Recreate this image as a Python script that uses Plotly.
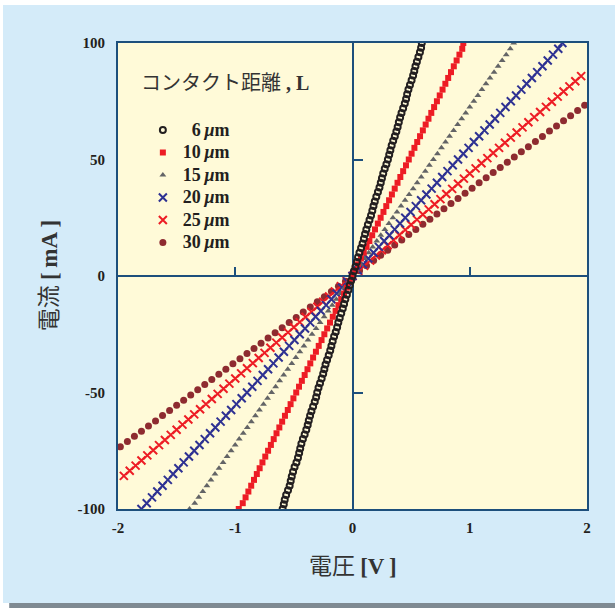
import plotly.graph_objects as go

# ---------------- data ----------------
series_names = ["6", "10", "15", "20", "25", "30"]

x_tick_vals = [-2, -1, 0, 1, 2]
x_tick_text = ["-2", "-1", "0", "1", "2"]
y_tick_vals = [-100, -50, 0, 50, 100]
y_tick_text = ["-100", "-50", "0", "50", "100"]
x_zero_ticks = [-1, 1]
y_zero_ticks = [-50, 50]

# 30 um
v_30 = [-1.98, -1.92, -1.86, -1.80, -1.74, -1.68, -1.62, -1.56, -1.50, -1.44, -1.38, -1.32, -1.26,
        -1.20, -1.14, -1.08, -1.02, -0.96, -0.90, -0.84, -0.78, -0.72, -0.66, -0.60, -0.54, -0.48,
        -0.42, -0.36, -0.30, -0.24, -0.18, -0.12, -0.06, 0.00, 0.06, 0.12, 0.18, 0.24, 0.30, 0.36,
        0.42, 0.48, 0.54, 0.60, 0.66, 0.72, 0.78, 0.84, 0.90, 0.96, 1.02, 1.08, 1.14, 1.20, 1.26,
        1.32, 1.38, 1.44, 1.50, 1.56, 1.62, 1.68, 1.74, 1.80, 1.86, 1.92, 1.98]
i_30 = [-73.3, -71.0, -68.8, -66.6, -64.4, -62.2, -59.9, -57.7, -55.5, -53.3, -51.1, -48.8, -46.6,
        -44.4, -42.2, -40.0, -37.7, -35.5, -33.3, -31.1, -28.9, -26.6, -24.4, -22.2, -20.0, -17.8,
        -15.5, -13.3, -11.1, -8.9, -6.7, -4.4, -2.2, 0.0, 2.2, 4.4, 6.7, 8.9, 11.1, 13.3,
        15.5, 17.8, 20.0, 22.2, 24.4, 26.6, 28.9, 31.1, 33.3, 35.5, 37.7, 40.0, 42.2, 44.4, 46.6,
        48.8, 51.1, 53.3, 55.5, 57.7, 59.9, 62.2, 64.4, 66.6, 68.8, 71.0, 73.3]

# 25 um
v_25 = [-1.95, -1.90, -1.85, -1.80, -1.75, -1.70, -1.65, -1.60, -1.55, -1.50, -1.45, -1.40, -1.35,
        -1.30, -1.25, -1.20, -1.15, -1.10, -1.05, -1.00, -0.95, -0.90, -0.85, -0.80, -0.75, -0.70,
        -0.65, -0.60, -0.55, -0.50, -0.45, -0.40, -0.35, -0.30, -0.25, -0.20, -0.15, -0.10, -0.05,
        0.00, 0.05, 0.10, 0.15, 0.20, 0.25, 0.30, 0.35, 0.40, 0.45, 0.50, 0.55, 0.60, 0.65, 0.70,
        0.75, 0.80, 0.85, 0.90, 0.95, 1.00, 1.05, 1.10, 1.15, 1.20, 1.25, 1.30, 1.35, 1.40, 1.45,
        1.50, 1.55, 1.60, 1.65, 1.70, 1.75, 1.80, 1.85, 1.90, 1.95]
i_25 = [-85.8, -83.6, -81.4, -79.2, -77.0, -74.8, -72.6, -70.4, -68.2, -66.0, -63.8, -61.6, -59.4,
        -57.2, -55.0, -52.8, -50.6, -48.4, -46.2, -44.0, -41.8, -39.6, -37.4, -35.2, -33.0, -30.8,
        -28.6, -26.4, -24.2, -22.0, -19.8, -17.6, -15.4, -13.2, -11.0, -8.8, -6.6, -4.4, -2.2,
        0.0, 2.2, 4.4, 6.6, 8.8, 11.0, 13.2, 15.4, 17.6, 19.8, 22.0, 24.2, 26.4, 28.6, 30.8,
        33.0, 35.2, 37.4, 39.6, 41.8, 44.0, 46.2, 48.4, 50.6, 52.8, 55.0, 57.2, 59.4, 61.6, 63.8,
        66.0, 68.2, 70.4, 72.6, 74.8, 77.0, 79.2, 81.4, 83.6, 85.8]

# current sweep shared by 20, 15 and 10 um
i_sweep = [-100, -97.5, -95, -92.5, -90, -87.5, -85, -82.5, -80, -77.5, -75, -72.5, -70, -67.5,
           -65, -62.5, -60, -57.5, -55, -52.5, -50, -47.5, -45, -42.5, -40, -37.5, -35, -32.5,
           -30, -27.5, -25, -22.5, -20, -17.5, -15, -12.5, -10, -7.5, -5, -2.5, 0,
           2.5, 5, 7.5, 10, 12.5, 15, 17.5, 20, 22.5, 25, 27.5, 30, 32.5, 35, 37.5, 40, 42.5,
           45, 47.5, 50, 52.5, 55, 57.5, 60, 62.5, 65, 67.5, 70, 72.5, 75, 77.5, 80, 82.5,
           85, 87.5, 90, 92.5, 95, 97.5, 100]

# 20 um
v_20 = [-1.800, -1.755, -1.710, -1.665, -1.620, -1.575, -1.530, -1.485, -1.440, -1.395, -1.350,
        -1.305, -1.260, -1.215, -1.170, -1.125, -1.080, -1.035, -0.990, -0.945, -0.900, -0.855,
        -0.810, -0.765, -0.720, -0.675, -0.630, -0.585, -0.540, -0.495, -0.450, -0.405, -0.360,
        -0.315, -0.270, -0.225, -0.180, -0.135, -0.090, -0.045, 0.000,
        0.045, 0.090, 0.135, 0.180, 0.225, 0.270, 0.315, 0.360, 0.405, 0.450, 0.495, 0.540,
        0.585, 0.630, 0.675, 0.720, 0.765, 0.810, 0.855, 0.900, 0.945, 0.990, 1.035, 1.080,
        1.125, 1.170, 1.215, 1.260, 1.305, 1.350, 1.395, 1.440, 1.485, 1.530, 1.575, 1.620,
        1.665, 1.710, 1.755, 1.790]

# 15 um
v_15 = [-1.3900, -1.3455, -1.3110, -1.2765, -1.2420, -1.2075, -1.1730, -1.1385, -1.1040, -1.0695,
        -1.0350, -1.0005, -0.9660, -0.9315, -0.8970, -0.8625, -0.8280, -0.7935, -0.7590, -0.7245,
        -0.6900, -0.6555, -0.6210, -0.5865, -0.5520, -0.5175, -0.4830, -0.4485, -0.4140, -0.3795,
        -0.3450, -0.3105, -0.2760, -0.2415, -0.2070, -0.1725, -0.1380, -0.1035, -0.0690, -0.0345,
        0.0000, 0.0345, 0.0690, 0.1035, 0.1380, 0.1725, 0.2070, 0.2415, 0.2760, 0.3105, 0.3450,
        0.3795, 0.4140, 0.4485, 0.4830, 0.5175, 0.5520, 0.5865, 0.6210, 0.6555, 0.6900, 0.7245,
        0.7590, 0.7935, 0.8280, 0.8625, 0.8970, 0.9315, 0.9660, 1.0005, 1.0350, 1.0695, 1.1040,
        1.1385, 1.1730, 1.2075, 1.2420, 1.2765, 1.3110, 1.3455, 1.3750]

# 10 um
v_10 = [-0.970, -0.936, -0.912, -0.888, -0.864, -0.840, -0.816, -0.792, -0.768, -0.744, -0.720,
        -0.696, -0.672, -0.648, -0.624, -0.600, -0.576, -0.552, -0.528, -0.504, -0.480, -0.456,
        -0.432, -0.408, -0.384, -0.360, -0.336, -0.312, -0.288, -0.264, -0.240, -0.216, -0.192,
        -0.168, -0.144, -0.120, -0.096, -0.072, -0.048, -0.024, 0.000,
        0.024, 0.048, 0.072, 0.096, 0.120, 0.144, 0.168, 0.192, 0.216, 0.240, 0.264, 0.288,
        0.312, 0.336, 0.360, 0.384, 0.408, 0.432, 0.456, 0.480, 0.504, 0.528, 0.552, 0.576,
        0.600, 0.624, 0.648, 0.672, 0.696, 0.720, 0.744, 0.768, 0.792, 0.816, 0.840, 0.864,
        0.888, 0.912, 0.936, 0.945]

# 6 um
v_6 = [-0.596, -0.586, -0.578, -0.566, -0.550, -0.536, -0.527, -0.518, -0.507, -0.494, -0.478,
       -0.465, -0.455, -0.446, -0.436, -0.423, -0.408, -0.394, -0.382, -0.373, -0.362, -0.350,
       -0.336, -0.322, -0.310, -0.301, -0.290, -0.277, -0.263, -0.250, -0.240, -0.230, -0.217,
       -0.203, -0.190, -0.180, -0.169, -0.157, -0.143, -0.131, -0.121, -0.109, -0.096, -0.083,
       -0.072, -0.061, -0.048, -0.035, -0.024, -0.012, 0.000, 0.012, 0.025, 0.037, 0.047,
       0.059, 0.073, 0.086, 0.097, 0.107, 0.118, 0.131, 0.145, 0.158, 0.169, 0.179, 0.190,
       0.203, 0.217, 0.230, 0.241, 0.251, 0.262, 0.275, 0.289, 0.302, 0.313, 0.323, 0.334,
       0.347, 0.361, 0.374, 0.385, 0.395, 0.406, 0.418, 0.432, 0.446, 0.457, 0.466, 0.477,
       0.490, 0.504, 0.517, 0.527, 0.537, 0.549, 0.562, 0.575, 0.585, 0.591]
i_6 = [-100, -98, -96, -94, -92, -90, -88, -86, -84, -82, -80, -78, -76, -74, -72, -70, -68, -66,
       -64, -62, -60, -58, -56, -54, -52, -50, -48, -46, -44, -42, -40, -38, -36, -34, -32, -30,
       -28, -26, -24, -22, -20, -18, -16, -14, -12, -10, -8, -6, -4, -2, 0, 2, 4, 6, 8, 10, 12,
       14, 16, 18, 20, 22, 24, 26, 28, 30, 32, 34, 36, 38, 40, 42, 44, 46, 48, 50, 52, 54, 56,
       58, 60, 62, 64, 66, 68, 70, 72, 74, 76, 78, 80, 82, 84, 86, 88, 90, 92, 94, 96, 98, 100]

# ---------------- styles ----------------
SERIF = "Liberation Serif"
CJK = "Noto Sans CJK JP"
FRAME = "#1d4f7c"
TXT = "#231f20"

styles = {
    "6": dict(symbol="circle-open", size=6, color="#231f20", line=dict(width=2, color="#231f20")),
    "10": dict(symbol="square", size=6, color="#ed1c24"),
    "15": dict(symbol="triangle-up", size=6, color="#636466"),
    "20": dict(symbol="x-thin-open", size=8, color="#2e3192", line=dict(width=2, color="#2e3192")),
    "25": dict(symbol="x-thin-open", size=8, color="#ed1c24", line=dict(width=2, color="#ed1c24")),
    "30": dict(symbol="circle", size=7, color="#8e2b30"),
}
data = {"6": (v_6, i_6), "10": (v_10, i_sweep), "15": (v_15, i_sweep),
        "20": (v_20, i_sweep), "25": (v_25, i_25), "30": (v_30, i_30)}

fig = go.Figure()
for rank, name in reversed(list(enumerate(series_names))):
    v, i = data[name]
    pad = "\u00a0\u00a0" if len(name) == 1 else ""
    label = '<span style="font-size:18px">' + pad + name + "\u2009<i>μ</i>m</span>"
    fig.add_trace(go.Scatter(x=v, y=i, mode="markers", name=label,
                             marker=styles[name], legendrank=rank + 1))

# carrier for the inner tick marks drawn on the zero lines
fig.add_trace(go.Scatter(x=[], y=[], xaxis="x2", yaxis="y2", showlegend=False,
                         hoverinfo="skip"))

fig.update_layout(
    width=615, height=608,
    margin=dict(l=118, r=28, t=43, b=99),
    paper_bgcolor="#d4ebf9",
    plot_bgcolor="#fffad8",
    showlegend=True,
    legend=dict(x=0.053, y=0.848, xanchor="left", yanchor="top",
                bgcolor="rgba(0,0,0,0)", tracegroupgap=0,
                font=dict(family=SERIF, size=15, color=TXT, weight="bold")),
    xaxis=dict(range=[-2, 2], tickvals=x_tick_vals, ticktext=x_tick_text, ticks="",
               showline=True, mirror=True, linecolor=FRAME, linewidth=2,
               showgrid=False, zeroline=True, zerolinecolor=FRAME, zerolinewidth=1.5,
               tickfont=dict(family=SERIF, size=15, color=TXT, weight="bold"),
               ticklabelstandoff=4),
    yaxis=dict(range=[-100, 100], tickvals=y_tick_vals, ticktext=y_tick_text, ticks="",
               showline=True, mirror=True, linecolor=FRAME, linewidth=2,
               showgrid=False, zeroline=True, zerolinecolor=FRAME, zerolinewidth=1.5,
               tickfont=dict(family=SERIF, size=15, color=TXT, weight="bold"),
               ticklabelstandoff=8),
    xaxis2=dict(overlaying="x", anchor="free", position=0.5, side="bottom",
                range=[-2, 2], tickvals=x_zero_ticks, ticks="inside", ticklen=9,
                tickwidth=1.5, tickcolor=FRAME, showticklabels=False,
                showline=False, showgrid=False, zeroline=False),
    yaxis2=dict(overlaying="y", anchor="free", position=0.5, side="left",
                range=[-100, 100], tickvals=y_zero_ticks, ticks="inside", ticklen=9,
                tickwidth=1.5, tickcolor=FRAME, showticklabels=False,
                showline=False, showgrid=False, zeroline=False),
)

serif_span = '<span style="font-family:Liberation Serif;font-weight:bold">'
fig.add_annotation(text='コンタクト距離' + serif_span + ' , L</span>',
                   xref="paper", yref="paper", x=0.045, y=0.917,
                   xanchor="left", yanchor="middle", showarrow=False,
                   font=dict(family=CJK, size=20, color="#333333"))
fig.add_annotation(text='電圧 ' + serif_span + '[V\u2009]</span>',
                   xref="paper", yref="paper", x=0.501, y=-0.118,
                   xanchor="center", yanchor="middle", showarrow=False,
                   font=dict(family=CJK, size=23, color="#333333"))
fig.add_annotation(text='電流 ' + serif_span + '[\u2009mA\u2009]</span>',
                   xref="paper", yref="paper", x=-0.151, y=0.5, textangle=-90,
                   xanchor="center", yanchor="middle", showarrow=False,
                   font=dict(family=CJK, size=23, color="#333333"))

# page frame: white border strip at top/left, grey shadow at bottom
fig.add_shape(type="rect", xref="paper", yref="paper", x0=-0.3, x1=1.2, y0=1.0815, y1=1.2,
              fillcolor="white", line_width=0, layer="above")
fig.add_shape(type="rect", xref="paper", yref="paper", x0=-0.3, x1=-0.2452, y0=-0.3, y1=1.2,
              fillcolor="white", line_width=0, layer="above")
fig.add_shape(type="rect", xref="paper", yref="paper", x0=-0.2452, x1=1.2, y0=-0.3, y1=-0.2017,
              fillcolor="white", line_width=0, layer="above")
fig.add_shape(type="rect", xref="paper", yref="paper", x0=-0.232, x1=1.2, y0=-0.2125, y1=-0.2017,
              fillcolor="#7f8a92", line_width=0, layer="above")

fig.write_html("out.html", config={"displayModeBar": False},
               post_script="document.body.style.margin='0';")
